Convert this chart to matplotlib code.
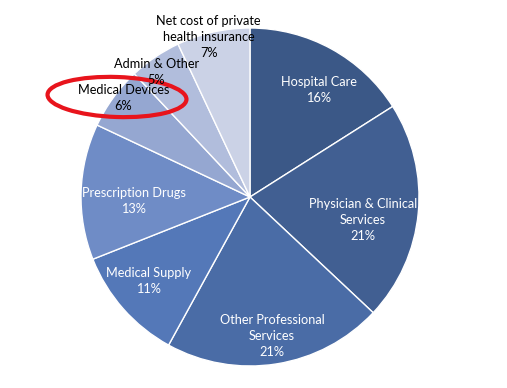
import numpy as np
import matplotlib
matplotlib.use("Agg")
import matplotlib.pyplot as plt
from matplotlib.patches import Ellipse

categories = ["Hospital Care", "Physician & Clinical\nServices", "Other Professional\nServices",
              "Medical Supply", "Prescription Drugs", "Medical Devices", "Admin & Other",
              "Net cost of private\nhealth insurance"]
values = [16, 21, 21, 11, 13, 6, 5, 7]
colors = ["#3b5887", "#415f92", "#4a6ca6", "#5478b8", "#6f8cc6", "#95a7d1", "#b1bddc", "#cbd2e6"]
text_colors = ["white", "white", "white", "white", "white", "black", "black", "black"]

W, H = 507, 388
fig = plt.figure(figsize=(W / 100, H / 100), dpi=100)
ax = fig.add_axes([0, 0, 1, 1])

cx, cy, R = 250, H - 197, 169
wedges, _ = ax.pie(values, colors=colors, startangle=90, counterclock=False,
                   center=(cx, cy), radius=R, frame=True,
                   wedgeprops=dict(edgecolor="white", linewidth=1.0))
ax.set_xlim(0, W)
ax.set_ylim(0, H)
ax.set_aspect("equal")
ax.axis("off")

# label placement: radial fraction, angular tweak and pixel nudge per slice
rfrac = [0.75, 0.68, 0.83, 0.78, 0.69, 0.95, 0.93, 0.97]
dang = [-4, -6, 0, -2, 4, -2, 1, 2]
nudge = [(0, 0), (0, 0), (0, 0), (0, 0), (0, 0), (0, 0), (-3, -3), (0, 1)]
for w, lab, v, tc, rf, da, (nx, ny) in zip(wedges, categories, values, text_colors,
                                           rfrac, dang, nudge):
    mid = np.deg2rad((w.theta1 + w.theta2) / 2 + da)
    x = cx + rf * R * np.cos(mid) + nx
    y = cy + rf * R * np.sin(mid) + ny
    ax.text(x, y, f"{lab}\n{v}%", ha="center", va="center", color=tc,
            fontsize=9.2, family="Lato", linespacing=1.4)

ell = Ellipse((117, H - 97), 139, 40, angle=-2, fill=False, edgecolor="#e8141c", linewidth=3)
ax.add_patch(ell)

fig.savefig("out.png", dpi=100)
